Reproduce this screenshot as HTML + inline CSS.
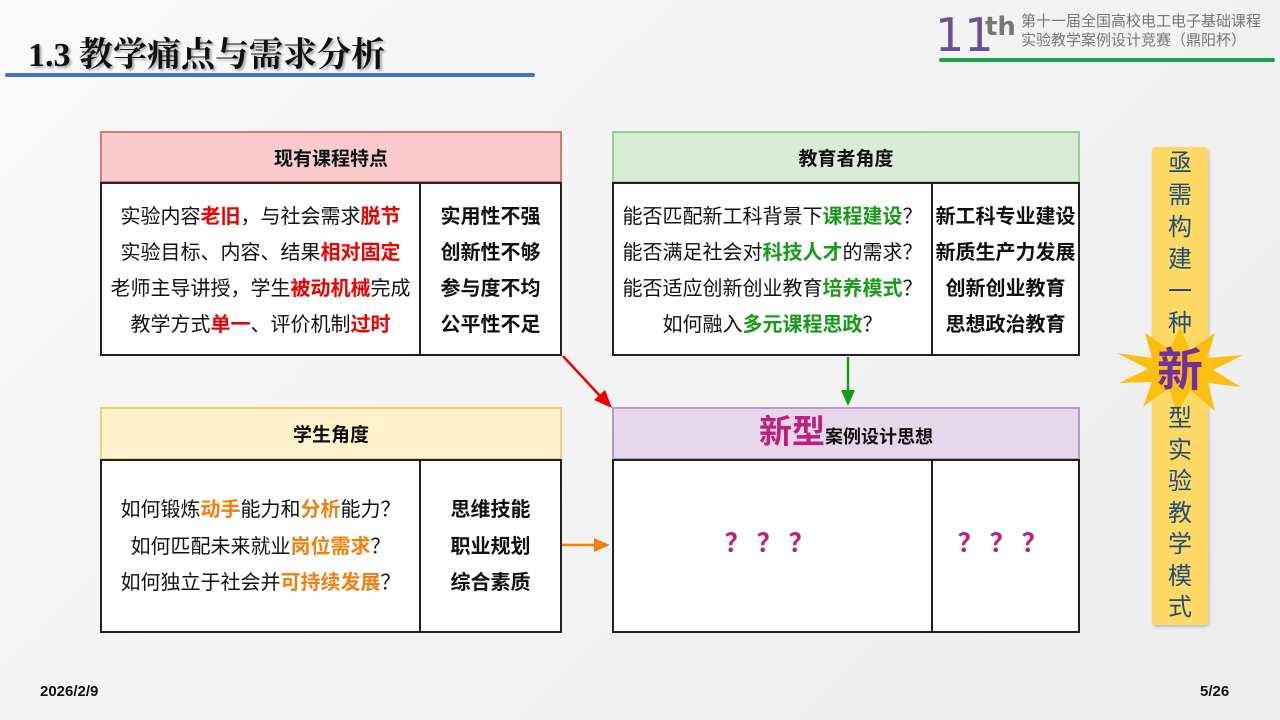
<!DOCTYPE html>
<html><head><meta charset="utf-8"><style>
*{margin:0;padding:0;box-sizing:border-box}
body{width:1280px;height:720px;overflow:hidden;position:relative;background:linear-gradient(135deg,#fafafa 0%,#f3f3f3 50%,#ececec 100%);font-family:"Liberation Sans","Noto Sans CJK SC",sans-serif;color:#111}
.a{position:absolute}
.hd{position:absolute;display:flex;align-items:center;justify-content:center;font-weight:bold;font-size:19px}
.bd{position:absolute;background:#fff;border:2px solid #222}
.ln{position:absolute;left:0;right:0;text-align:center;font-size:20px;line-height:24px;white-space:nowrap}
.r{color:#e00;font-weight:bold}.g{color:#1a9a1a;font-weight:bold}.o{color:#f08010;font-weight:bold}
.b{font-weight:bold}
.vd{position:absolute;top:0;bottom:0;width:2px;background:#222}
</style></head><body>
<div class="a" style="left:28px;top:27px;font-family:'Liberation Serif','Noto Serif CJK SC',serif;font-weight:bold;font-size:34px;text-shadow:2px 2px 2px #aaa">1.3 教学痛点与需求分析</div>
<div class="a" style="left:5px;top:73px;width:530px;height:4px;background:#4472c4;border-radius:2px"></div>
<div class="a" style="left:935px;top:10px;font-size:46px;color:#6a4f9a;line-height:50px;font-family:'DejaVu Sans',sans-serif">11</div>
<div class="a" style="left:985px;top:12px;font-size:26px;color:#777;font-weight:bold;font-family:'DejaVu Sans',sans-serif">th</div>
<div class="a" style="left:1021px;top:12px;font-size:15px;color:#777;line-height:19px">第十一届全国高校电工电子基础课程<br>实验教学案例设计竞赛（鼎阳杯）</div>
<div class="a" style="left:939px;top:58px;width:336px;height:4px;background:#1aa34a;border-radius:2px"></div>

<div class="hd" style="left:100px;top:131px;width:462px;height:52px;background:#f8cccc;border:2px solid #d77">现有课程特点</div>
<div class="bd" style="left:100px;top:182px;width:462px;height:174px">
<div class="vd" style="left:317px"></div>
<div class="a" style="left:0;width:317px;top:0;height:170px">
<div class="ln" style="top:21px">实验内容<span class="r">老旧</span>，与社会需求<span class="r">脱节</span></div>
<div class="ln" style="top:57px">实验目标、内容、结果<span class="r">相对固定</span></div>
<div class="ln" style="top:93px">老师主导讲授，学生<span class="r">被动机械</span>完成</div>
<div class="ln" style="top:129px">教学方式<span class="r">单一</span>、评价机制<span class="r">过时</span></div></div>
<div class="a b" style="left:319px;width:139px;top:0;height:170px">
<div class="ln" style="top:21px">实用性不强</div><div class="ln" style="top:57px">创新性不够</div><div class="ln" style="top:93px">参与度不均</div><div class="ln" style="top:129px">公平性不足</div></div>
</div>

<div class="hd" style="left:612px;top:131px;width:468px;height:52px;background:#d9ecd5;border:2px solid #9c9">教育者角度</div>
<div class="bd" style="left:612px;top:182px;width:468px;height:174px">
<div class="vd" style="left:317px"></div>
<div class="a" style="left:0;width:317px;top:0;height:170px">
<div class="ln" style="top:21px">能否匹配新工科背景下<span class="g">课程建设</span>？</div>
<div class="ln" style="top:57px">能否满足社会对<span class="g">科技人才</span>的需求？</div>
<div class="ln" style="top:93px">能否适应创新创业教育<span class="g">培养模式</span>？</div>
<div class="ln" style="top:129px">如何融入<span class="g">多元课程思政</span>？</div></div>
<div class="a b" style="left:319px;width:145px;top:0;height:170px">
<div class="ln" style="top:21px">新工科专业建设</div><div class="ln" style="top:57px">新质生产力发展</div><div class="ln" style="top:93px">创新创业教育</div><div class="ln" style="top:129px">思想政治教育</div></div>
</div>

<div class="hd" style="left:100px;top:407px;width:462px;height:53px;background:#fff2cc;border:2px solid #f0d070">学生角度</div>
<div class="bd" style="left:100px;top:459px;width:462px;height:174px">
<div class="vd" style="left:317px"></div>
<div class="a" style="left:0;width:317px;top:0;height:170px">
<div class="ln" style="top:37px">如何锻炼<span class="o">动手</span>能力和<span class="o">分析</span>能力？</div>
<div class="ln" style="top:74px">如何匹配未来就业<span class="o">岗位需求</span>？</div>
<div class="ln" style="top:110px">如何独立于社会并<span class="o">可持续发展</span>？</div></div>
<div class="a b" style="left:319px;width:139px;top:0;height:170px">
<div class="ln" style="top:37px">思维技能</div><div class="ln" style="top:74px">职业规划</div><div class="ln" style="top:110px">综合素质</div></div>
</div>

<div class="hd" style="left:612px;top:407px;width:468px;height:53px;background:#e5d8ea;border:2px solid #b49cc8;align-items:flex-end;padding-bottom:8px"><span style="color:#c0207a;font-size:33px;line-height:36px">新型</span><span style="font-size:18px;line-height:26px">案例设计思想</span></div>
<div class="bd" style="left:612px;top:459px;width:468px;height:174px">
<div class="vd" style="left:317px"></div>
<div class="ln b" style="top:70px;width:317px;color:#c0207a;font-size:26px;letter-spacing:6px">？？？</div>
<div class="ln b" style="top:70px;left:319px;width:145px;color:#c0207a;font-size:26px;letter-spacing:6px">？？？</div>
</div>

<svg class="a" style="left:0;top:0" width="1280" height="720">
<line x1="563" y1="356" x2="600" y2="396" stroke="#e00" stroke-width="2.5"/>
<polygon points="612,408 594,400 605,390" fill="#e00"/>
<line x1="848" y1="357" x2="848" y2="392" stroke="#1a9a1a" stroke-width="2.5"/>
<polygon points="841,390 855,390 848,406" fill="#1a9a1a"/>
<line x1="562" y1="545" x2="596" y2="545" stroke="#f08010" stroke-width="2.5"/>
<polygon points="594,538 594,552 610,545" fill="#f08010"/>
</svg>

<div class="a" style="left:1152px;top:147px;width:56px;height:478px;background:#fed966;border-radius:4px;box-shadow:1px 2px 3px #bbb"></div>
<div class="a" style="left:1152px;top:148px;width:56px;text-align:center;font-size:24px;line-height:32px;color:#1f4e79">亟<br>需<br>构<br>建<br>一<br>种</div>
<svg class="a" style="left:1115px;top:325px" width="130" height="90"><polygon points="65,2 75,25 100,8 92,33 128,30 98,45 126,62 93,58 100,86 75,65 62,88 54,63 28,82 37,57 4,58 33,44 2,28 37,33 30,8 55,25" fill="#fbbf10"/></svg>
<div class="a" style="left:1148px;top:342px;width:64px;text-align:center;font-size:46px;line-height:56px;font-weight:bold;color:#7030a0">新</div>
<div class="a" style="left:1152px;top:403px;width:56px;text-align:center;font-size:24px;line-height:31.5px;color:#1f4e79">型<br>实<br>验<br>教<br>学<br>模<br>式</div>

<div class="a b" style="left:40px;top:683px;font-size:15px">2026/2/9</div>
<div class="a b" style="left:1200px;top:683px;font-size:15px">5/26</div>
</body></html>
